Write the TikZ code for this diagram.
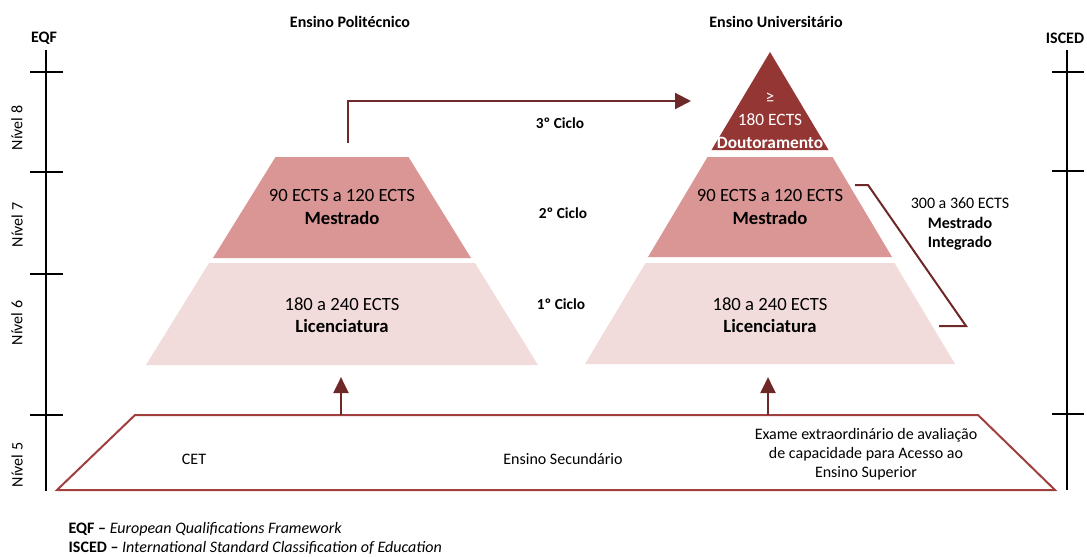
\documentclass[tikz,border=0pt]{standalone}
\usepackage{fontspec}
\setmainfont{Carlito}
\usetikzlibrary{shapes,arrows,arrows.meta,positioning,calc}
\definecolor{doutcol}{HTML}{943634}
\definecolor{mestcol}{HTML}{D99694}
\definecolor{licecol}{HTML}{F2DCDB}
\definecolor{basecol}{HTML}{A0403E}
\definecolor{arrcol}{HTML}{6E2828}
\newcommand{\fs}[1]{\fontsize{#1}{1.2\dimexpr#1pt\relax}\selectfont}
\tikzset{
axisline/.style = {draw, line width=1.6pt},
axistick/.style = {draw, line width=1.2pt},
title/.style = {font=\bfseries\fs{12}},
level/.style = {rotate=90, font=\fs{12}},
layertext/.style = {align=center, font=\fs{14}},
ciclo/.style = {font=\bfseries\fs{11.5}},
basetext/.style = {align=center, font=\fs{12}},
uparrow/.style = {draw=arrcol, line width=2.2pt, -{Triangle[length=12pt,width=11pt]}},
cicloarrow/.style = {draw=arrcol, line width=1.6pt, -{Triangle[length=12pt,width=12pt]}},
legend/.style = {anchor=west, font=\fs{12}},
}

\begin{document}
\begin{tikzpicture}[x=0.75pt, y=-0.75pt, >=latex']
      \useasboundingbox (0,0) rectangle (1087,556);
      % axes
      \draw [axisline] (46,50) -- (46,491);
      \foreach \y in {72,172,274,415} \draw [axistick] (30,\y) -- (63,\y);
      \draw [axisline] (1067,50) -- (1067,490);
      \foreach \y in {72,171,414} \draw [axistick] (1052,\y) -- (1084,\y);
      \node [title] (eqf) at (44,38) {EQF};
      \node [title] (isced) at (1065,38) {ISCED};
      \node [level] (n8) at (17,128) {Nível 8};
      \node [level] (n7) at (17,225) {Nível 7};
      \node [level] (n6) at (17,323) {Nível 6};
      \node [level] (n5) at (17,465) {Nível 5};
      \node [title] (poli) at (350,22) {Ensino Politécnico};
      \node [title] (univ) at (776,22) {Ensino Universitário};
      % layers
      \fill [mestcol] (275.5,157) -- (408.5,157) -- (471,258) -- (213,258) -- cycle;
      \fill [licecol] (209,263) -- (475,263) -- (538,365) -- (146,365) -- cycle;
      \fill [doutcol] (770,52) -- (828.5,150) -- (711.5,150) -- cycle;
      \fill [mestcol] (707.5,157) -- (832.5,157) -- (892,257) -- (648,257) -- cycle;
      \fill [licecol] (645.5,263) -- (894.5,263) -- (955,364) -- (585,364) -- cycle;
      \node [layertext] (mestL) at (342,207) {90 ECTS a 120 ECTS\\\textbf{Mestrado}};
      \node [layertext] (liceL) at (342,315) {180 a 240 ECTS\\\textbf{Licenciatura}};
      \node [layertext, text=white, font=\fontsize{13}{17.2}\selectfont] (doutR) at (770,121) {≥\\180 ECTS\\\textbf{Doutoramento}};
      \node [layertext] (mestR) at (770,207) {90 ECTS a 120 ECTS\\\textbf{Mestrado}};
      \node [layertext] (liceR) at (770,315) {180 a 240 ECTS\\\textbf{Licenciatura}};
      \node [ciclo] (c3) at (560,123) {3º Ciclo};
      \node [ciclo] (c2) at (563,213) {2º Ciclo};
      \node [ciclo] (c1) at (561,304) {1º Ciclo};
      % base
      \draw [basecol, fill=white, line width=1.5pt] (135,415) -- (978,415) -- (1055,490) -- (57,490) -- cycle;
      \node [basetext] (cet) at (194,459) {CET};
      \node [basetext] (sec) at (563,459) {Ensino Secundário};
      \node [basetext] (exame) at (866,454) {Exame extraordinário de avaliação\\de capacidade para Acesso ao\\Ensino Superior};
      % connectors
      \coordinate (baseL) at (341,415);
      \coordinate (baseR) at (768,415);
      \coordinate (liceLbot) at (341,377);
      \coordinate (liceRbot) at (768,377);
      \coordinate (mestLtop) at (348,143);
      \coordinate (doutRleft) at (691,101);
      \draw [uparrow] (baseL) -- (liceLbot);
      \draw [uparrow] (baseR) -- (liceRbot);
      \draw [cicloarrow] (mestLtop) |- (doutRleft);
      \coordinate (brA) at (855,185);
      \coordinate (brB) at (868,185);
      \coordinate (brC) at (966,326);
      \coordinate (brD) at (939,326);
      \draw [arrcol, line width=1.5pt] (brA) -- (brB) -- (brC) -- (brD);
      \node [basetext] (integ) at (960,224) {300 a 360 ECTS\\\textbf{Mestrado}\\\textbf{Integrado}};
      % legend
      \node [legend] (leg1) at (64,529) {\textbf{EQF –} \textit{European Qualifications Framework}};
      \node [legend] (leg2) at (64,548) {\textbf{ISCED –} \textit{International Standard Classification of Education}};
\end{tikzpicture}
\end{document}
